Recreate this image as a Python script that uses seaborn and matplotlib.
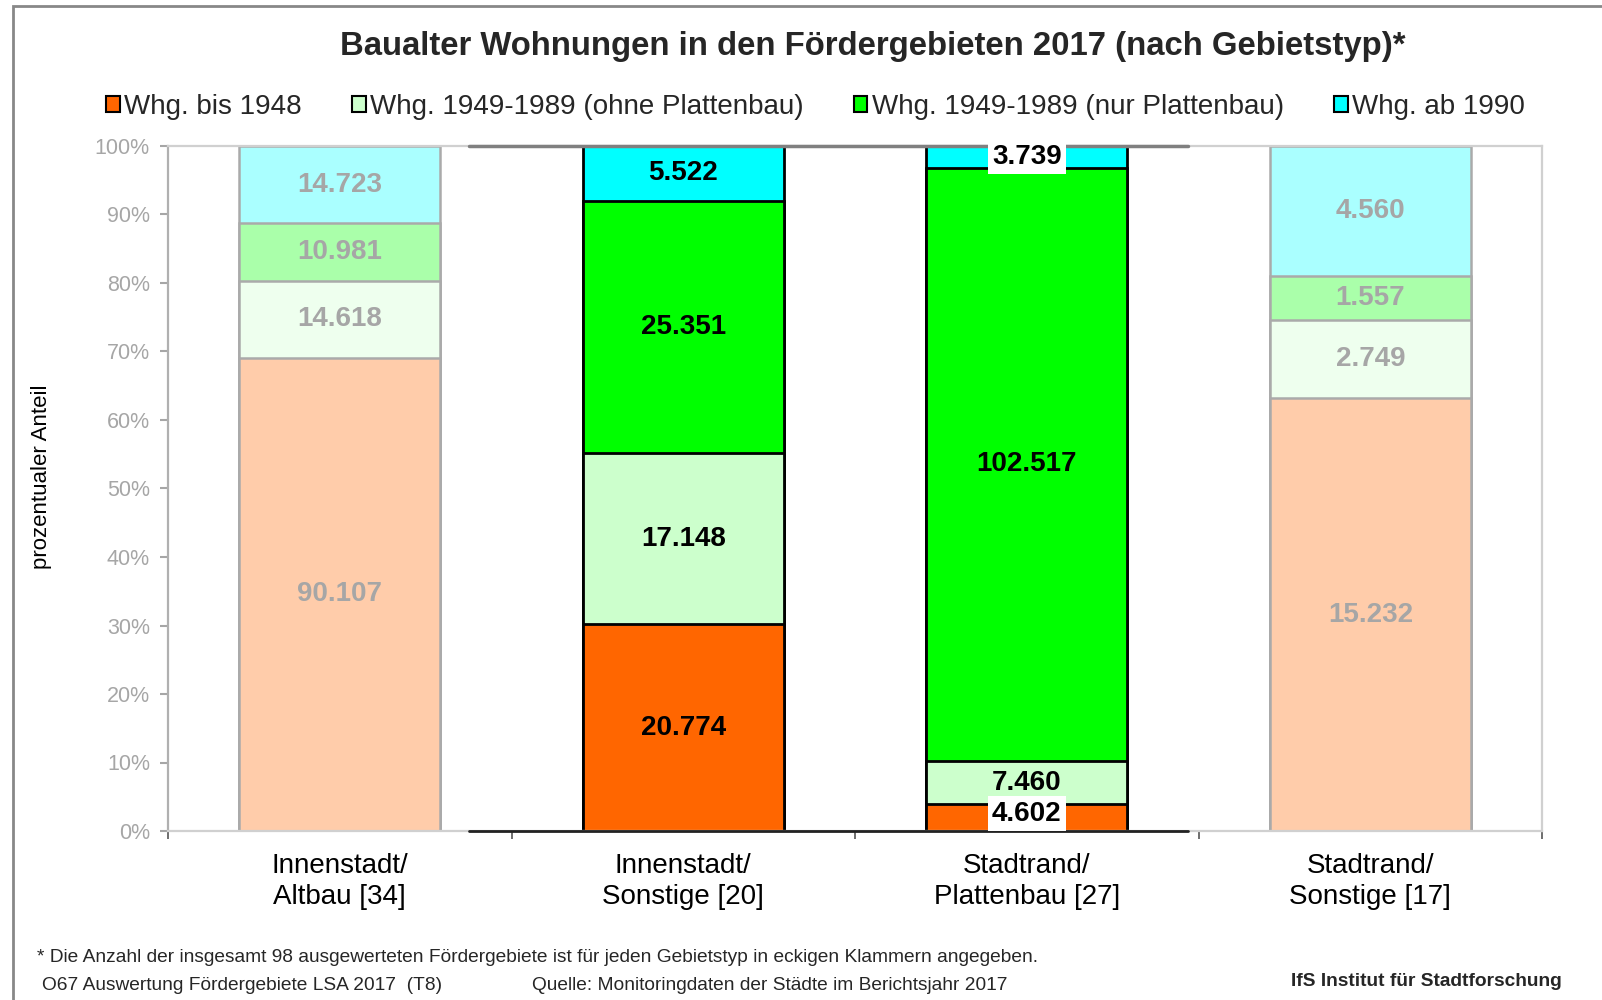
import pandas as pd
import matplotlib.pyplot as plt
import seaborn as sns
from matplotlib.patches import Patch, Rectangle

# data
categories = ['Innenstadt/\nAltbau [34]', 'Innenstadt/\nSonstige [20]',
              'Stadtrand/\nPlattenbau [27]', 'Stadtrand/\nSonstige [17]']
series = ['Whg. bis 1948', 'Whg. 1949-1989 (ohne Plattenbau)',
          'Whg. 1949-1989 (nur Plattenbau)', 'Whg. ab 1990']
bis_1948 = [90107, 20774, 4602, 15232]
ohne_platte = [14618, 17148, 7460, 2749]
nur_platte = [10981, 25351, 102517, 1557]
ab_1990 = [14723, 5522, 3739, 4560]
highlight = [False, True, True, False]

colors_full = ['#FF6600', '#CCFFCC', '#00FF00', '#00FFFF']
colors_pale = ['#FFCCAA', '#EEFFEE', '#AAFFAA', '#AAFFFF']
grey = '#A6A6A6'

df = pd.DataFrame({'cat': categories, series[0]: bis_1948, series[1]: ohne_platte,
                   series[2]: nur_platte, series[3]: ab_1990})
total = df[series].sum(axis=1)
pct = df[series].div(total, axis=0) * 100
cum = pct.cumsum(axis=1)

sns.set_style('white')
plt.rcParams['font.family'] = ['Liberation Sans', 'DejaVu Sans']

fig = plt.figure(figsize=(16.02, 10), dpi=100)
ax = fig.add_axes([0.1049, 0.169, 0.8577, 0.685])

# stacked bars: draw cumulative layers from top to bottom
for i in range(3, -1, -1):
    n0 = len(ax.patches)
    sns.barplot(x=df['cat'], y=cum[series[i]], order=categories, ax=ax,
                color=colors_full[i], saturation=1, width=0.585, errorbar=None)
    for j, p in enumerate(ax.patches[n0:]):
        if highlight[j]:
            p.set_facecolor(colors_full[i])
            p.set_edgecolor('black')
            p.set_linewidth(2)
        else:
            p.set_facecolor(colors_pale[i])
            p.set_edgecolor('#AAAAAA')
            p.set_linewidth(1.8)

# value labels
boxed = {(2, 0), (2, 3)}
for j in range(len(categories)):
    for i in range(4):
        v = df[series[i]][j]
        y = cum[series[i]][j] - pct[series[i]][j] / 2
        if (j, i) == (2, 0):
            y += 0.6
        txt = f"{v:,}".replace(',', '.')
        kw = {}
        if (j, i) in boxed:
            kw['bbox'] = dict(facecolor='white', edgecolor='none', pad=3)
        ax.text(j, y, txt, ha='center', va='center', fontsize=20, fontweight='bold',
                color='black' if highlight[j] else grey, zorder=5, **kw)

ax.set_ylim(0, 100)
ax.set_xlim(-0.5, 3.5)
ax.set_yticks(range(0, 101, 10))
ax.set_yticklabels([f"{t}%" for t in range(0, 101, 10)])
ax.tick_params(axis='y', colors=grey, labelsize=15.5, length=6, width=1.5, pad=7,
               direction='out', left=True)
ax.tick_params(axis='x', which='major', length=0, labelsize=20, labelcolor='black', pad=16)
for lab in ax.get_xticklabels():
    lab.set_linespacing(1.25)
ax.set_xticks([-0.5, 0.5, 1.5, 2.5, 3.5], minor=True)
ax.tick_params(axis='x', which='minor', length=6, width=1.2, color='#555555', direction='out', bottom=True)
ax.set_xlabel('')
ax.set_ylabel('prozentualer Anteil', fontsize=16, color='black')
ax.yaxis.set_label_coords(-0.0844, 0.517)

for s in ['top', 'right', 'bottom']:
    ax.spines[s].set_color('#D0D0D0')
    ax.spines[s].set_linewidth(1.6)
ax.spines['left'].set_color('#B0B0B0')
ax.spines['left'].set_linewidth(1.6)
# darker frame segment around the highlighted types
ax.axhline(100, xmin=0.219, xmax=0.742, color='#808080', lw=2.5, zorder=4, clip_on=False)
ax.axhline(0, xmin=0.219, xmax=0.742, color='#222222', lw=2, zorder=4, clip_on=False)

# legend
handles = [Patch(facecolor=c, edgecolor='black', linewidth=1.5) for c in colors_full]
fig.legend(handles, series, loc='center', bbox_to_anchor=(0.509, 0.893), ncol=4,
           frameon=False, fontsize=20, handlelength=0.5, handleheight=0.5,
           handletextpad=0.15, columnspacing=1.8)

fig.suptitle('Baualter Wohnungen in den Fördergebieten 2017 (nach Gebietstyp)*',
             x=0.545, y=0.953, va='center', fontsize=23.7, fontweight='bold')

fig.text(0.023, 0.043, '* Die Anzahl der insgesamt 98 ausgewerteten Fördergebiete ist für jeden '
         'Gebietstyp in eckigen Klammern angegeben.', fontsize=13.8, va='center')
fig.text(0.026, 0.014, 'O67 Auswertung Fördergebiete LSA 2017  (T8)', fontsize=13.8, va='center')
fig.text(0.332, 0.014, 'Quelle: Monitoringdaten der Städte im Berichtsjahr 2017', fontsize=13.8, va='center')
fig.text(0.975, 0.019, 'IfS Institut für Stadtforschung', fontsize=13.8, fontweight='bold',
         ha='right', va='center')

fig.add_artist(Rectangle((0.0079, -0.05), 1.1, 1.0443, transform=fig.transFigure,
                         fill=False, edgecolor='#888888', lw=2))

plt.savefig('out.png', dpi=100)
